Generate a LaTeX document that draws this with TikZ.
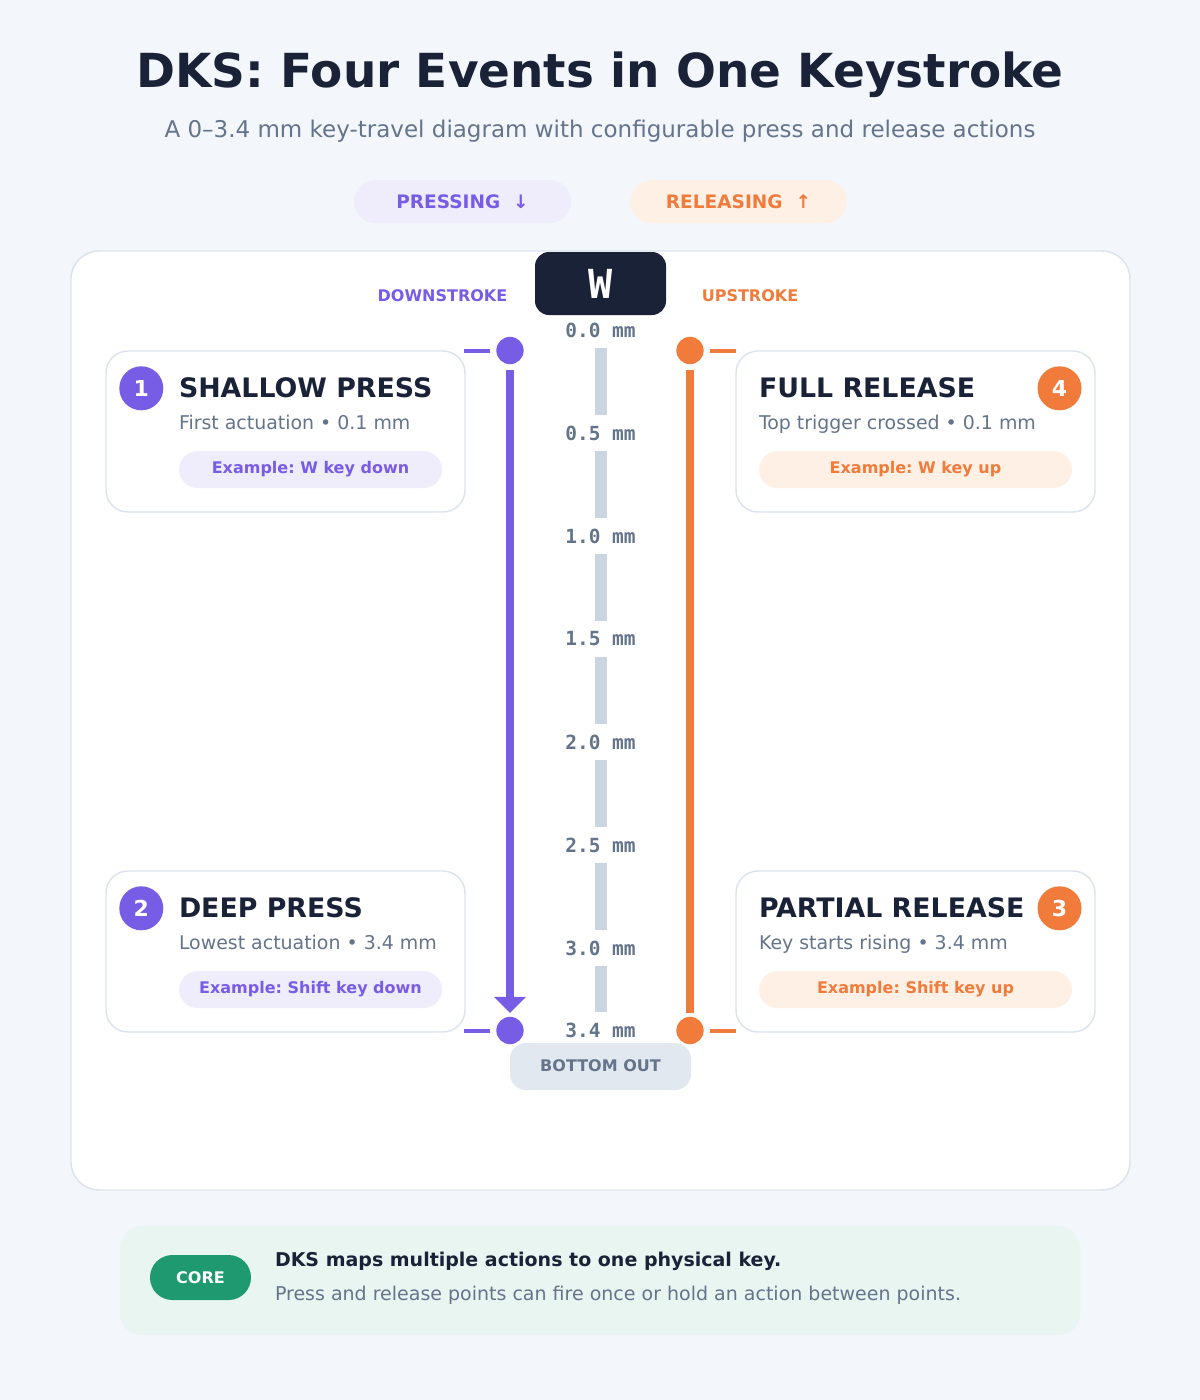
\documentclass[tikz,border=0pt]{standalone}
\usepackage{fontspec}
\setmainfont{DejaVu Sans}
\setmonofont{DejaVu Sans Mono}
\usetikzlibrary{arrows.meta}
\frenchspacing
\definecolor{bg}{HTML}{F3F6FB}
\definecolor{ink}{HTML}{1A2238}
\definecolor{muted}{HTML}{64748B}
\definecolor{cardline}{HTML}{DCE3EE}
\definecolor{purp}{HTML}{775CE6}
\definecolor{purpl}{HTML}{EFECFB}
\definecolor{orng}{HTML}{F07B3B}
\definecolor{orngl}{HTML}{FFF0E6}
\definecolor{barc}{HTML}{CBD5E1}
\definecolor{grn}{HTML}{1F9A70}
\definecolor{grnl}{HTML}{E8F5F1}
\definecolor{bopill}{HTML}{E2E8F0}
\begin{document}
\begin{tikzpicture}[x=0.75pt,y=-0.75pt,
  every node/.style={inner sep=0pt,outer sep=0pt},
  card/.style={draw=cardline,fill=white,line width=1.1pt,rounded corners=16.5pt},
  ctitle/.style={anchor=base west,text=ink,font=\frenchspacing\bfseries\fontsize{20.1pt}{23pt}\selectfont},
  csub/.style={anchor=base west,text=muted,font=\frenchspacing\fontsize{14.2pt}{17pt}\selectfont},
  expill/.style={rounded corners=13.9pt,minimum height=27.75pt},
  extext/.style={anchor=base,font=\frenchspacing\bfseries\fontsize{12pt}{14pt}\selectfont},
  badge/.style={circle,minimum size=33pt,text=white,font=\bfseries\fontsize{16.5pt}{18pt}\selectfont},
  dot/.style={circle,minimum size=20.5pt},
  mmlab/.style={fill=white,minimum height=27pt,inner xsep=2pt,text=muted,font=\ttfamily\bfseries\fontsize{14.6pt}{16pt}\selectfont},
  barseg/.style={draw=barc,line width=9pt},
  tickp/.style={draw=purp,line width=3pt},
  ticko/.style={draw=orng,line width=3pt},
  stroke/.style={line width=6pt}
]
% background and bounding box
\path[fill=bg] (0,0) rectangle (1200,1400);

% title
\node[anchor=base,text=ink,font=\frenchspacing\bfseries\fontsize{35.2pt}{40pt}\selectfont] (title) at (600,87) {DKS: Four Events in One Keystroke};
\node[anchor=base,text=muted,font=\fontsize{17.25pt}{20pt}\selectfont] (subtitle) at (600,137) {A 0–3.4 mm key-travel diagram with configurable press and release actions};

% legend pills
\node[fill=purpl,rounded corners=16pt,minimum width=162.75pt,minimum height=32.25pt] (pressing) at (462.5,201.5) {};
\node[anchor=base,text=purp,font=\bfseries\fontsize{13.9pt}{16pt}\selectfont] (pressingt) at (462.5,208) {PRESSING\ \ ↓};
\node[fill=orngl,rounded corners=16pt,minimum width=162.75pt,minimum height=32.25pt] (releasing) at (738.5,201.5) {};
\node[anchor=base,text=orng,font=\bfseries\fontsize{13.9pt}{16pt}\selectfont] (releasingt) at (738.5,208) {RELEASING\ \ ↑};

% main panel
\draw[draw=cardline,fill=white,line width=1.1pt,rounded corners=21pt] (71,251) rectangle (1130,1190);

% side labels
\node[anchor=base,text=purp,font=\bfseries\fontsize{12pt}{14pt}\selectfont] (down) at (442.5,301) {DOWNSTROKE};
\node[anchor=base,text=orng,font=\bfseries\fontsize{12pt}{14pt}\selectfont] (up) at (750,301) {UPSTROKE};

% travel scale
\foreach \v/\yy [count=\i] in {0.0/330,0.5/433,1.0/536,1.5/639,2.0/742,2.5/845,3.0/948,3.4/1030}
  \node[mmlab] (mm\i) at (600.5,\yy) {\v\ mm};
\foreach \i [evaluate=\i as \j using int(\i+1)] in {1,...,7}
  \draw[barseg] (mm\i.south) -- (mm\j.north);

% key cap
\node[fill=ink,rounded corners=10.5pt,minimum width=98.25pt,minimum height=47.25pt] (key) at (600.5,283.5) {};
\node[anchor=base,text=white,font=\ttfamily\bfseries\fontsize{30pt}{32pt}\selectfont] (keyt) at (600.5,298) {W};

% dots
\node[dot,fill=purp] (d1) at (510,350.5) {};
\node[dot,fill=purp] (d2) at (510,1030.5) {};
\node[dot,fill=orng] (o1) at (690,350.5) {};
\node[dot,fill=orng] (o2) at (690,1030.5) {};

% strokes
\draw[stroke,draw=purp,shorten <=4.5pt,shorten >=3pt,-{Triangle[width=23.5pt,length=12pt]},purp] (d1) -- (d2);
\draw[stroke,draw=orng,shorten <=3pt,shorten >=4.5pt] (o2) -- (o1);

% ticks
\draw[tickp] ([xshift=-4.5pt]d1.west) -- ++(-26,0);
\draw[tickp] ([xshift=-4.5pt]d2.west) -- ++(-26,0);
\draw[ticko] ([xshift=4.5pt]o1.east) -- ++(26,0);
\draw[ticko] ([xshift=4.5pt]o2.east) -- ++(26,0);

% bottom out
\node[fill=bopill,rounded corners=12pt,minimum width=135.75pt,minimum height=35.25pt] (bottom) at (600.5,1066.5) {};
\node[anchor=base,text=muted,font=\bfseries\fontsize{12pt}{14pt}\selectfont] (bottomt) at (600.5,1071) {BOTTOM OUT};

% card 1
\draw[card] (106,351) rectangle (465,512);
\node[badge,fill=purp] (b1) at (141.3,388.3) {1};
\node[ctitle] (t1) at (179,397) {SHALLOW PRESS};
\node[csub] (s1) at (179,429) {First actuation • 0.1 mm};
\node[expill,fill=purpl,minimum width=197.25pt] (e1) at (310.5,469.5) {};
\node[extext,text=purp] (e1t) at (310.5,473.3) {Example: W key down};

% card 2
\draw[card] (106,871) rectangle (465,1032);
\node[badge,fill=purp] (b2) at (141.3,908.3) {2};
\node[ctitle] (t2) at (179,917) {DEEP PRESS};
\node[csub] (s2) at (179,949) {Lowest actuation • 3.4 mm};
\node[expill,fill=purpl,minimum width=197.25pt] (e2) at (310.5,989.5) {};
\node[extext,text=purp] (e2t) at (310.5,993.3) {Example: Shift key down};

% card 4
\draw[card] (736,351) rectangle (1095,512);
\node[badge,fill=orng] (b4) at (1059.5,388.3) {4};
\node[ctitle] (t4) at (759,397) {FULL RELEASE};
\node[csub] (s4) at (759,429) {Top trigger crossed • 0.1 mm};
\node[expill,fill=orngl,minimum width=234.75pt] (e4) at (915.5,469.5) {};
\node[extext,text=orng] (e4t) at (915.5,473.3) {Example: W key up};

% card 3
\draw[card] (736,871) rectangle (1095,1032);
\node[badge,fill=orng] (b3) at (1059.5,908.3) {3};
\node[ctitle] (t3) at (759,917) {PARTIAL RELEASE};
\node[csub] (s3) at (759,949) {Key starts rising • 3.4 mm};
\node[expill,fill=orngl,minimum width=234.75pt] (e3) at (915.5,989.5) {};
\node[extext,text=orng] (e3t) at (915.5,993.3) {Example: Shift key up};

% footer
\node[fill=grnl,rounded corners=16.5pt,minimum width=720pt,minimum height=81.75pt] (foot) at (600,1280.5) {};
\node[fill=grn,rounded corners=16.8pt,minimum width=75.75pt,minimum height=33.75pt] (core) at (200.5,1277.5) {};
\node[anchor=base,text=white,font=\bfseries\fontsize{12pt}{14pt}\selectfont] (coret) at (200.5,1283.3) {CORE};
\node[anchor=base west,text=ink,font=\frenchspacing\bfseries\fontsize{14.25pt}{17pt}\selectfont] (f1) at (275,1266) {DKS maps multiple actions to one physical key.};
\node[anchor=base west,text=muted,font=\frenchspacing\fontsize{14.25pt}{17pt}\selectfont] (f2) at (275,1300) {Press and release points can fire once or hold an action between points.};
\end{tikzpicture}
\end{document}
